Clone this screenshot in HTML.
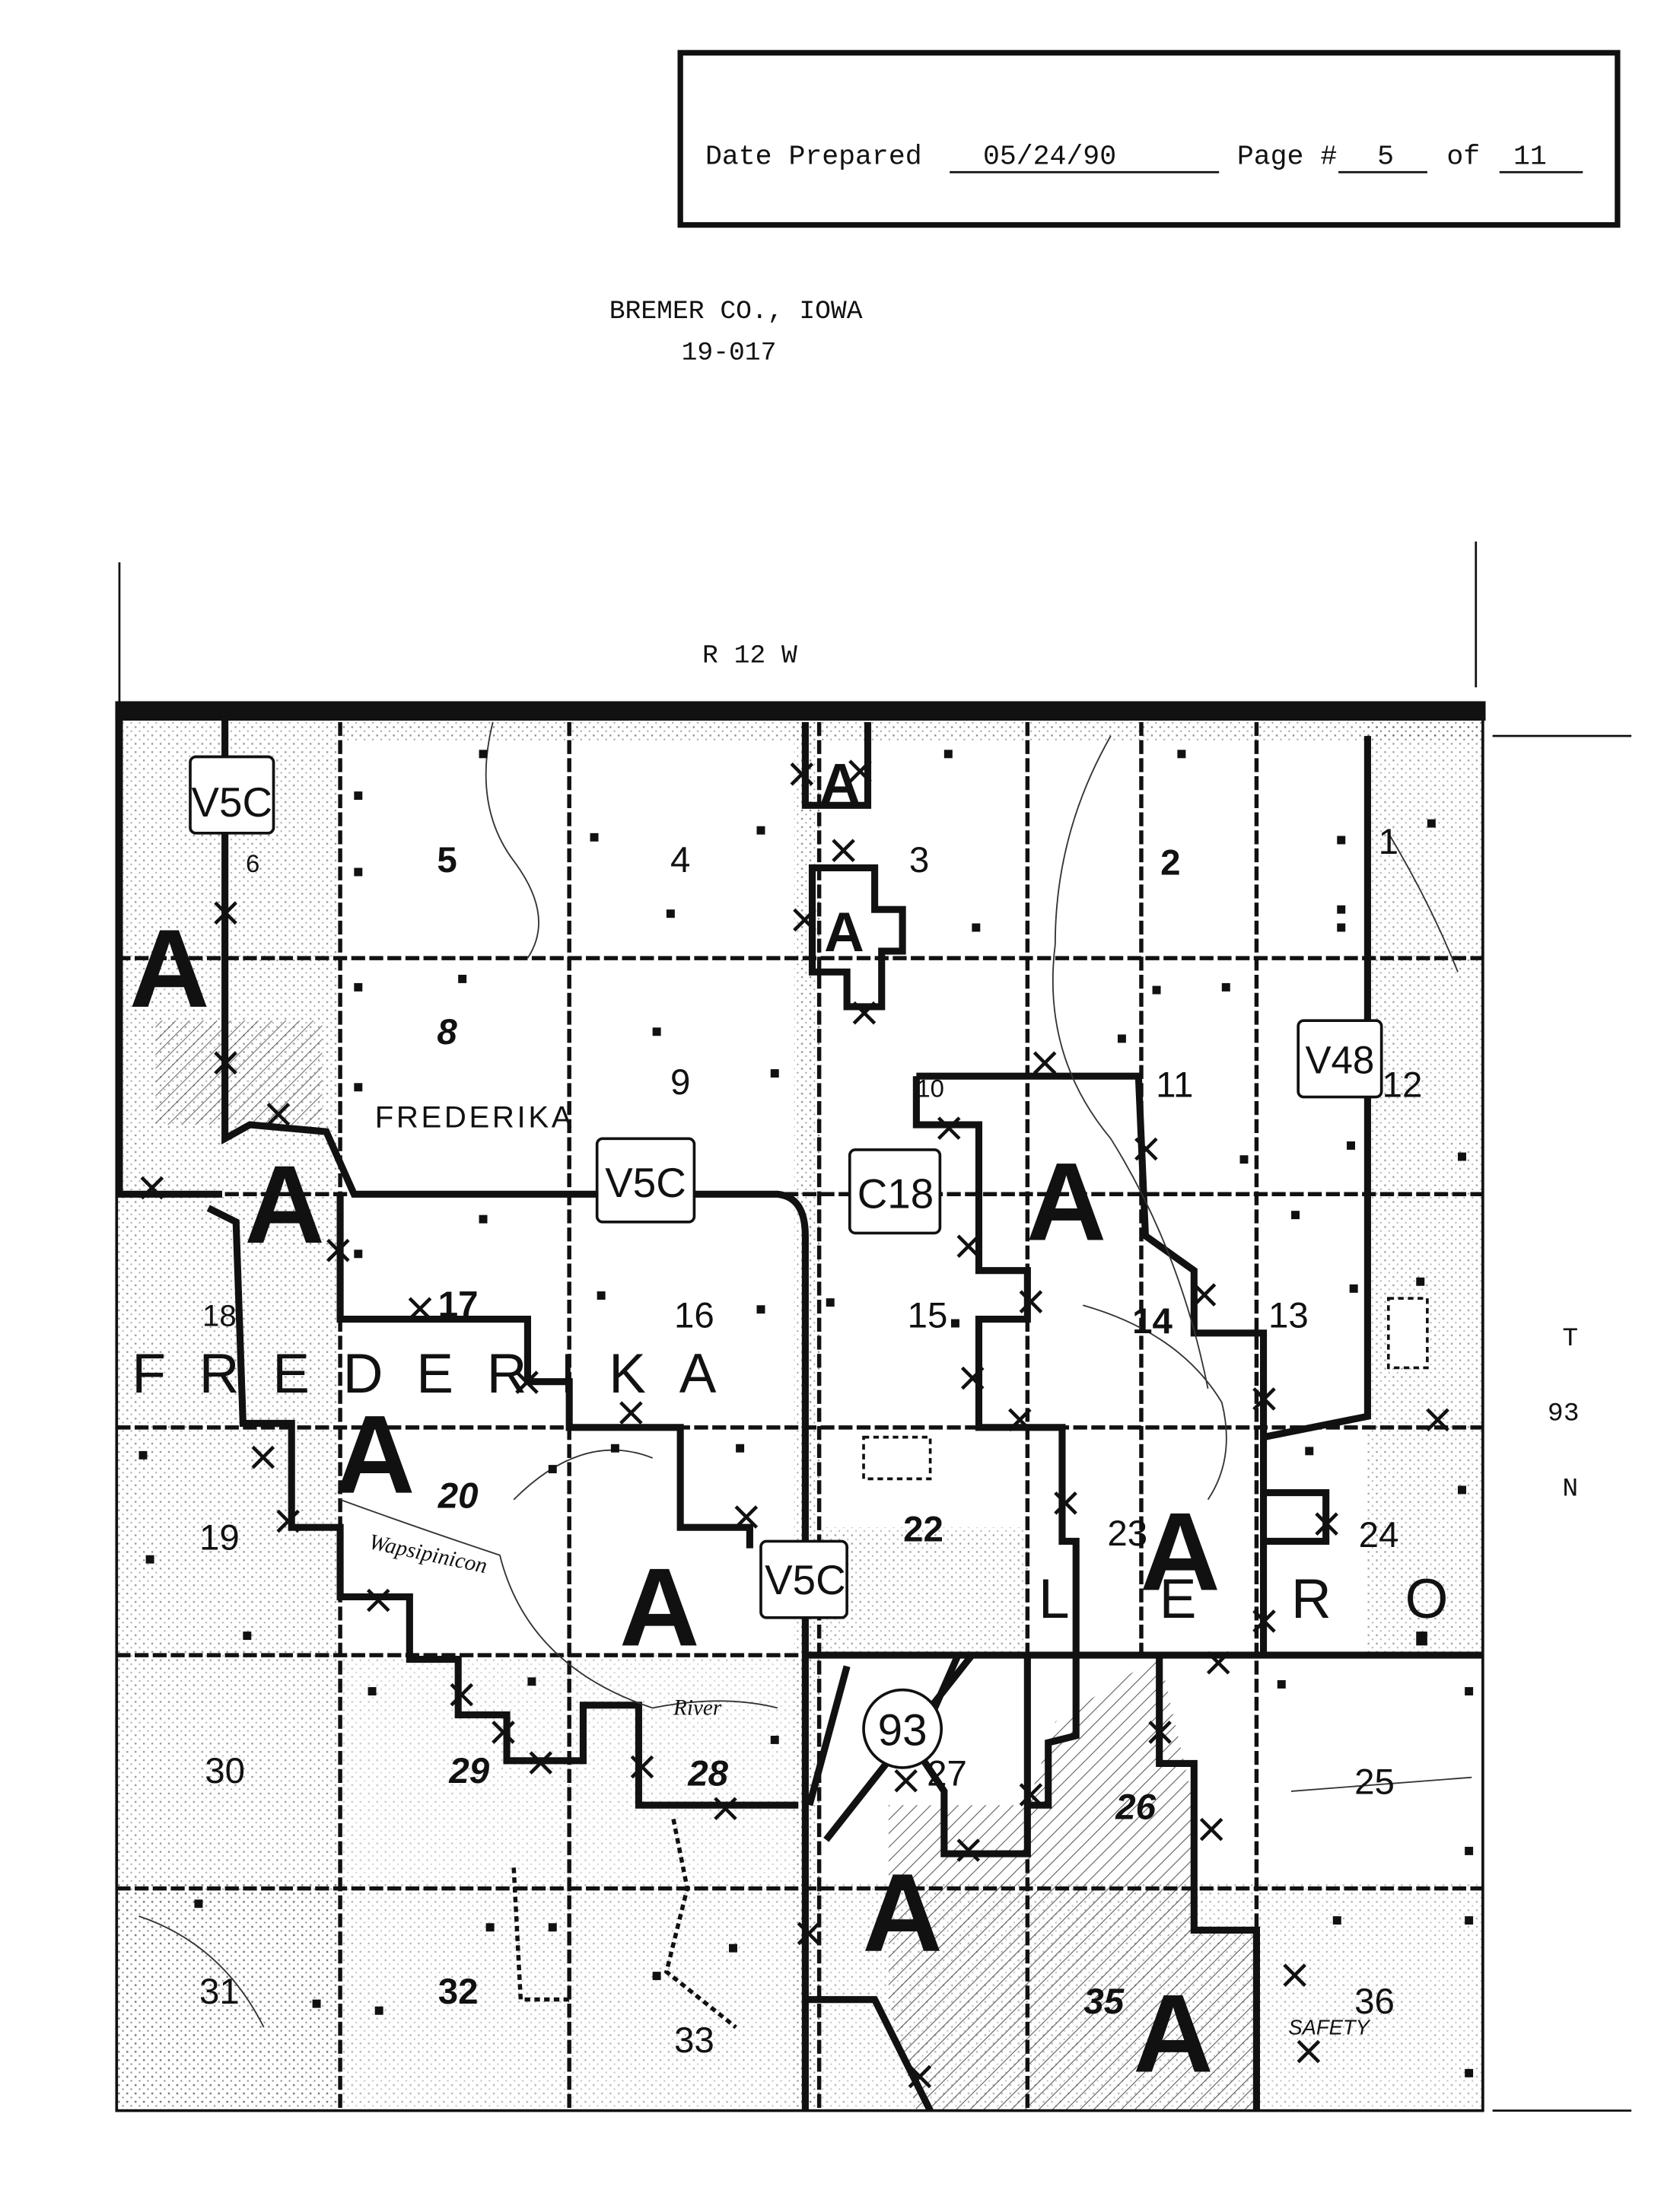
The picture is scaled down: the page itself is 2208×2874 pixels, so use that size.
<!DOCTYPE html>
<html><head><meta charset="utf-8"><style>
html,body{margin:0;padding:0;background:#fff}
svg{display:block}
text{font-family:"Liberation Sans",sans-serif;fill:#111}
.m{font-family:"Liberation Mono",monospace}
.s{font-family:"Liberation Serif",serif}
</style></head><body>
<svg width="2208" height="2874" viewBox="0 0 1210 1575" xmlns="http://www.w3.org/2000/svg">
<defs>
<pattern id="dots" width="6" height="6" patternUnits="userSpaceOnUse"><rect x="1" y="1" width="1.3" height="1.3" fill="#444"/><rect x="4" y="4" width="1.1" height="1.1" fill="#666"/></pattern>
<pattern id="hatch" width="7" height="7" patternUnits="userSpaceOnUse" patternTransform="rotate(45)"><line x1="0" y1="0" x2="0" y2="7" stroke="#333" stroke-width="1.2"/></pattern>
</defs>
<rect width="1210" height="1575" fill="#fff"/>
<!-- header -->
<rect x="490" y="38" width="675" height="124" fill="none" stroke="#111" stroke-width="4"/>
<text x="508" y="118" class="m" font-size="20">Date Prepared</text>
<line x1="684" y1="124" x2="878" y2="124" stroke="#111" stroke-width="1.5"/>
<text x="708" y="118" class="m" font-size="20">05/24/90</text>
<text x="891" y="118" class="m" font-size="20">Page #</text>
<line x1="964" y1="124" x2="1028" y2="124" stroke="#111" stroke-width="1.5"/>
<text x="992" y="118" class="m" font-size="20">5</text>
<text x="1042" y="118" class="m" font-size="20">of</text>
<line x1="1080" y1="124" x2="1140" y2="124" stroke="#111" stroke-width="1.5"/>
<text x="1090" y="118" class="m" font-size="20">11</text>
<text x="530" y="229" class="m" font-size="19" text-anchor="middle">BREMER CO., IOWA</text>
<text x="525" y="259" class="m" font-size="19" text-anchor="middle">19-017</text>
<line x1="86" y1="405" x2="86" y2="510" stroke="#111" stroke-width="1.5"/>
<line x1="1063" y1="390" x2="1063" y2="495" stroke="#111" stroke-width="1.5"/>
<text x="540" y="477" class="m" font-size="19" text-anchor="middle">R  12  W</text>
<text x="1131" y="969" class="m" font-size="19" text-anchor="middle">T</text>
<text x="1126" y="1023" class="m" font-size="19" text-anchor="middle">93</text>
<text x="1131" y="1077" class="m" font-size="19" text-anchor="middle">N</text>
<line x1="1075" y1="530" x2="1175" y2="530" stroke="#111" stroke-width="1.5"/>
<line x1="1075" y1="1520" x2="1175" y2="1520" stroke="#111" stroke-width="1.5"/>

<!-- map shading -->
<rect x="84" y="512" width="160" height="1008" fill="url(#dots)" opacity="0.55"/>
<rect x="985" y="512" width="83" height="680" fill="url(#dots)" opacity="0.5"/>
<rect x="245" y="512" width="823" height="22" fill="url(#dots)" opacity="0.6"/>
<rect x="572" y="512" width="20" height="1008" fill="url(#dots)" opacity="0.6"/>
<rect x="84" y="1355" width="984" height="165" fill="url(#dots)" opacity="0.4"/>
<rect x="245" y="1192" width="335" height="165" fill="url(#dots)" opacity="0.3"/>
<rect x="590" y="1100" width="150" height="90" fill="url(#dots)" opacity="0.5"/>
<path d="M640 1300 L740 1300 L760 1240 L835 1192 L860 1300 L860 1390 L905 1390 L905 1520 L660 1520 L640 1440 Z" fill="url(#hatch)" opacity="0.8"/>
<rect x="112" y="735" width="120" height="75" fill="url(#hatch)" opacity="0.7"/>

<!-- grid -->
<g stroke="#111" fill="none">
<g stroke-width="3" stroke-dasharray="10 3">
<line x1="245" y1="520" x2="245" y2="1520"/><line x1="410" y1="520" x2="410" y2="1520"/>
<line x1="740" y1="520" x2="740" y2="1520"/><line x1="822" y1="520" x2="822" y2="1192"/>
<line x1="905" y1="520" x2="905" y2="1520"/>
<line x1="590" y1="520" x2="590" y2="1520"/>
<line x1="84" y1="690" x2="1068" y2="690"/><line x1="84" y1="860" x2="1068" y2="860"/>
<line x1="84" y1="1028" x2="1068" y2="1028"/><line x1="84" y1="1192" x2="1068" y2="1192"/>
<line x1="84" y1="1360" x2="1068" y2="1360"/>
</g>
<rect x="84" y="512" width="984" height="1008" stroke-width="2"/>
<line x1="83" y1="512" x2="1070" y2="512" stroke-width="14"/>
<!-- district boundaries -->
<g stroke-width="5" stroke-linejoin="miter">
<path d="M86 512 L86 860 L160 860"/>
<path d="M162 512 L162 820 L180 810 L235 815 L255 860 L560 860 Q580 862 580 890 L580 1520"/>
<path d="M150 870 L170 880 L175 1025 L210 1025 L210 1100 L245 1100 L245 1150 L295 1150 L295 1195 L330 1195 L330 1235 L365 1235 L365 1268 L420 1268 L420 1228 L460 1228 L460 1300 L575 1300"/>
<path d="M245 860 L245 950 L380 950 L380 995 L410 995 L410 1028 L490 1028 L490 1100 L540 1100 L540 1115"/>
<path d="M580 520 L580 580 L625 580 L625 520"/>
<path d="M585 625 L630 625 L630 655 L650 655 L650 685 L635 685 L635 725 L610 725 L610 700 L585 700 Z"/>
<path d="M660 775 L660 810 L705 810 L705 915 L740 915 L740 950 L705 950 L705 1028 L765 1028 L765 1110 L775 1110 L775 1192"/>
<path d="M660 775 L820 775 L825 890 L860 915 L860 960 L910 960 L910 1192"/>
<path d="M910 1035 L985 1020 L985 530"/>
<path d="M910 1075 L955 1075 L955 1110 L910 1110"/>
<path d="M580 1192 L1068 1192"/>
<path d="M835 1192 L835 1270 L860 1270 L860 1390 L905 1390 L905 1520"/>
<path d="M583 1300 L610 1200"/><path d="M595 1325 L700 1192"/>
<path d="M690 1192 L660 1260 L680 1290 L680 1335 L740 1335 L740 1192"/>
<path d="M775 1192 L775 1250 L755 1255 L755 1300 L740 1300"/>
<path d="M580 1440 L630 1440 L650 1480 L670 1520"/>
</g>
<!-- x marks -->
<g stroke-width="2.5">
<path d="M155 650 l15 15 m0 -15 l-15 15 M155 758 l15 15 m0 -15 l-15 15 M193 795 l15 15 m0 -15 l-15 15 M102 848 l15 15 m0 -15 l-15 15 M236 893 l15 15 m0 -15 l-15 15 M295 935 l15 15 m0 -15 l-15 15 M372 988 l15 15 m0 -15 l-15 15 M447 1010 l15 15 m0 -15 l-15 15 M182 1042 l15 15 m0 -15 l-15 15 M200 1088 l15 15 m0 -15 l-15 15 M265 1145 l15 15 m0 -15 l-15 15 M325 1213 l15 15 m0 -15 l-15 15 M355 1240 l15 15 m0 -15 l-15 15 M382 1262 l15 15 m0 -15 l-15 15 M455 1265 l15 15 m0 -15 l-15 15 M515 1295 l15 15 m0 -15 l-15 15 M530 1085 l15 15 m0 -15 l-15 15 M565 1150 l15 15 m0 -15 l-15 15 M570 550 l15 15 m0 -15 l-15 15 M612 548 l15 15 m0 -15 l-15 15 M600 605 l15 15 m0 -15 l-15 15 M572 655 l15 15 m0 -15 l-15 15 M615 722 l15 15 m0 -15 l-15 15 M676 805 l15 15 m0 -15 l-15 15 M745 758 l15 15 m0 -15 l-15 15 M818 820 l15 15 m0 -15 l-15 15 M690 890 l15 15 m0 -15 l-15 15 M735 930 l15 15 m0 -15 l-15 15 M693 985 l15 15 m0 -15 l-15 15 M727 1015 l15 15 m0 -15 l-15 15 M760 1075 l15 15 m0 -15 l-15 15 M860 925 l15 15 m0 -15 l-15 15 M903 1000 l15 15 m0 -15 l-15 15 M948 1090 l15 15 m0 -15 l-15 15 M903 1160 l15 15 m0 -15 l-15 15 M870 1190 l15 15 m0 -15 l-15 15 M828 1240 l15 15 m0 -15 l-15 15 M865 1310 l15 15 m0 -15 l-15 15 M645 1275 l15 15 m0 -15 l-15 15 M690 1325 l15 15 m0 -15 l-15 15 M735 1285 l15 15 m0 -15 l-15 15 M575 1385 l15 15 m0 -15 l-15 15 M655 1488 l15 15 m0 -15 l-15 15 M925 1415 l15 15 m0 -15 l-15 15 M935 1470 l15 15 m0 -15 l-15 15 M1028 1015 l15 15 m0 -15 l-15 15"/>
</g>
<!-- thin features -->
<g stroke-width="1" stroke="#333">
<path d="M355 520 Q340 580 370 620 Q400 660 380 690"/>
<path d="M800 530 Q760 600 760 680 Q750 760 800 820 Q850 900 870 1000"/>
<path d="M1000 600 Q1030 650 1050 700"/>
<path d="M245 1080 Q300 1100 360 1120 Q380 1200 470 1230 Q520 1220 560 1230"/>
<path d="M370 1080 Q420 1030 470 1050"/>
<path d="M780 940 Q850 960 880 1010 Q890 1050 870 1080"/>
<path d="M930 1290 L1060 1280"/>
<path d="M100 1380 Q160 1400 190 1460"/>
</g>
<path d="M485 1310 L495 1360 L480 1420 L530 1460" stroke="#111" stroke-width="3" stroke-dasharray="4 3" fill="none"/>
<path d="M370 1345 L375 1440 L410 1440" stroke="#111" stroke-width="3" stroke-dasharray="4 3" fill="none"/>
<!-- route shields -->
<g stroke-width="2" fill="#fff">
<rect x="137" y="545" width="60" height="55" rx="4"/>
<rect x="430" y="820" width="70" height="60" rx="4"/>
<rect x="548" y="1110" width="62" height="55" rx="4"/>
<rect x="612" y="828" width="65" height="60" rx="4"/>
<rect x="935" y="735" width="60" height="55" rx="4"/>
<circle cx="650" cy="1245" r="28"/>
<rect x="622" y="1035" width="48" height="30" stroke-dasharray="4 3"/>
<rect x="1000" y="935" width="28" height="50" stroke-dasharray="4 3"/>
</g>
</g>
<text x="167" y="588" font-size="30" text-anchor="middle">V5C</text>
<text x="465" y="862" font-size="30" text-anchor="middle">V5C</text>
<text x="580" y="1148" font-size="30" text-anchor="middle">V5C</text>
<text x="645" y="870" font-size="30" text-anchor="middle">C18</text>
<text x="965" y="773" font-size="28" text-anchor="middle">V48</text>
<text x="650" y="1257" font-size="32" text-anchor="middle">93</text>
<!-- big A -->
<g font-weight="bold" font-size="80" text-anchor="middle">
<text x="122" y="725">A</text><text x="205" y="895">A</text><text x="270" y="1075">A</text>
<text x="475" y="1185">A</text><text x="768" y="893">A</text><text x="850" y="1145">A</text>
<text x="650" y="1405">A</text><text x="845" y="1492">A</text>
</g>
<text x="605" y="578" font-size="40" font-weight="bold" text-anchor="middle">A</text>
<text x="608" y="685" font-size="40" font-weight="bold" text-anchor="middle">A</text>
<text x="95" y="1003" font-size="40" letter-spacing="24">FREDERIKA</text>
<text x="270" y="812" font-size="22" letter-spacing="2">FREDERIKA</text>
<g font-size="40"><text x="748" y="1165">L</text><text x="835" y="1165">E</text><text x="930" y="1165">R</text><text x="1012" y="1165">O</text></g>
<text x="265" y="1115" font-size="16" font-style="italic" class="s" transform="rotate(12 265 1115)">Wapsipinicon</text>
<text x="485" y="1235" font-size="16" font-style="italic" class="s">River</text>
<text x="928" y="1465" font-size="15" font-style="italic">SAFETY</text>
<!-- section numbers -->
<g font-size="26" text-anchor="middle" class="s">
<text x="182" y="628" font-size="18">6</text><text x="322" y="628" font-weight="bold">5</text><text x="490" y="628">4</text><text x="662" y="628">3</text><text x="843" y="630" font-weight="bold">2</text><text x="1000" y="615">1</text>
<text x="322" y="752" font-weight="bold" font-style="italic">8</text><text x="490" y="788">9</text><text x="670" y="790" font-size="18">10</text><text x="846" y="790">11</text><text x="1010" y="790">12</text>
<text x="158" y="955" font-size="22">18</text><text x="330" y="948" font-weight="bold">17</text><text x="500" y="956">16</text><text x="668" y="956">15</text><text x="830" y="960" font-weight="bold">14</text><text x="928" y="956">13</text>
<text x="158" y="1116">19</text><text x="330" y="1086" font-weight="bold" font-style="italic">20</text><text x="665" y="1110" font-weight="bold">22</text><text x="812" y="1113">23</text><text x="993" y="1114">24</text>
<text x="162" y="1284">30</text><text x="338" y="1284" font-weight="bold" font-style="italic">29</text><text x="510" y="1286" font-weight="bold" font-style="italic">28</text><text x="682" y="1286">27</text><text x="818" y="1310" font-weight="bold" font-style="italic">26</text><text x="990" y="1292">25</text>
<text x="158" y="1443">31</text><text x="330" y="1443" font-weight="bold">32</text><text x="500" y="1478">33</text><text x="795" y="1450" font-weight="bold" font-style="italic">35</text><text x="990" y="1450">36</text>
</g>
<!-- scattered squares -->
<g fill="#111">
<rect x="255" y="570" width="6" height="6"/><rect x="255" y="625" width="6" height="6"/><rect x="345" y="540" width="6" height="6"/><rect x="425" y="600" width="6" height="6"/><rect x="480" y="655" width="6" height="6"/><rect x="545" y="595" width="6" height="6"/><rect x="680" y="540" width="6" height="6"/><rect x="700" y="665" width="6" height="6"/><rect x="848" y="540" width="6" height="6"/><rect x="963" y="602" width="6" height="6"/><rect x="963" y="652" width="6" height="6"/><rect x="963" y="665" width="6" height="6"/><rect x="1028" y="590" width="6" height="6"/>
<rect x="255" y="708" width="6" height="6"/><rect x="330" y="702" width="6" height="6"/><rect x="255" y="780" width="6" height="6"/><rect x="470" y="740" width="6" height="6"/><rect x="555" y="770" width="6" height="6"/><rect x="805" y="745" width="6" height="6"/><rect x="830" y="710" width="6" height="6"/><rect x="880" y="708" width="6" height="6"/><rect x="893" y="832" width="6" height="6"/><rect x="970" y="822" width="6" height="6"/><rect x="1050" y="830" width="6" height="6"/>
<rect x="255" y="900" width="6" height="6"/><rect x="345" y="875" width="6" height="6"/><rect x="430" y="930" width="6" height="6"/><rect x="545" y="940" width="6" height="6"/><rect x="685" y="950" width="6" height="6"/><rect x="930" y="872" width="6" height="6"/><rect x="972" y="925" width="6" height="6"/><rect x="1020" y="920" width="6" height="6"/><rect x="595" y="935" width="6" height="6"/>
<rect x="100" y="1045" width="6" height="6"/><rect x="105" y="1120" width="6" height="6"/><rect x="175" y="1175" width="6" height="6"/><rect x="395" y="1055" width="6" height="6"/><rect x="440" y="1040" width="6" height="6"/><rect x="530" y="1040" width="6" height="6"/><rect x="940" y="1042" width="6" height="6"/><rect x="1050" y="1070" width="6" height="6"/><rect x="1020" y="1175" width="8" height="10"/>
<rect x="265" y="1215" width="6" height="6"/><rect x="380" y="1208" width="6" height="6"/><rect x="555" y="1250" width="6" height="6"/><rect x="1055" y="1215" width="6" height="6"/><rect x="920" y="1210" width="6" height="6"/><rect x="1055" y="1330" width="6" height="6"/>
<rect x="140" y="1368" width="6" height="6"/><rect x="225" y="1440" width="6" height="6"/><rect x="270" y="1445" width="6" height="6"/><rect x="350" y="1385" width="6" height="6"/><rect x="395" y="1385" width="6" height="6"/><rect x="470" y="1420" width="6" height="6"/><rect x="525" y="1400" width="6" height="6"/><rect x="960" y="1380" width="6" height="6"/><rect x="1055" y="1380" width="6" height="6"/><rect x="1055" y="1490" width="6" height="6"/>
</g>
</svg>
</body></html>
